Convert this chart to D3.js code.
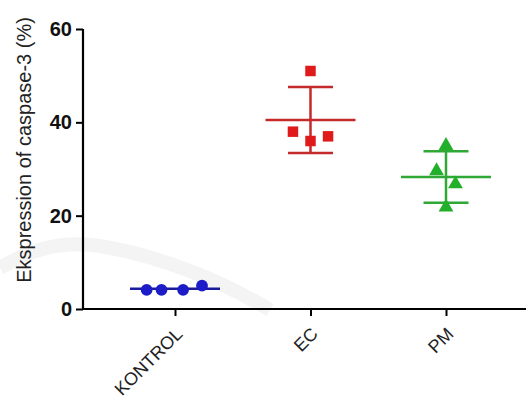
<!DOCTYPE html>
<html>
<head>
<meta charset="utf-8">
<script src="https://cdn.jsdelivr.net/npm/d3@7"></script>
<style>
  body { margin: 0; background: #fff; }
  svg { display: block; font-family: Arial, "Liberation Sans", sans-serif; }
</style>
</head>
<body>
<script>
// groups and measured values (% caspase-3 expression)
const groups = ['KONTROL', 'EC', 'PM'];
const kontrol = [4.1, 4.1, 4.1, 5.0];
const ec = [38, 36, 37, 51];
const pm = [35, 29.6, 26.8, 21.8];
// horizontal spread of dots, as a fraction of band width
const jitterK = [-0.21, -0.1, 0.06, 0.2];
const jitterEC = [-0.13, 0, 0.13, 0];
const jitterPM = [0, -0.07, 0.07, 0];
const yTicks = [0, 20, 40, 60];
const colors = ['#1c1cc8', '#e01a1a', '#22b02a'];
const lineColors = ['#1a1a9a', '#c42a2a', '#2fa836'];

const W = 526, H = 405;
const svg = d3.select('body').append('svg').attr('width', W).attr('height', H);

// faint watermark arc
svg.append('path')
  .attr('d', 'M0,268 C30,250 60,240 100,246 C160,256 220,280 270,310')
  .attr('fill', 'none').attr('stroke', '#f4f4f4').attr('stroke-width', 14);

const x = d3.scalePoint().domain(groups).range([175, 446]);
const band = 135;
const y = d3.scaleLinear().domain([0, 60]).range([309, 29]);

// y axis
const yAxis = svg.append('g').attr('transform', 'translate(83,0)')
  .call(d3.axisLeft(y).tickValues(yTicks).tickSize(7).tickPadding(4));
yAxis.select('.domain').attr('stroke-width', 2.2).attr('d', 'M0,29V309');
yAxis.selectAll('.tick line').attr('stroke-width', 2);
yAxis.selectAll('.tick text').attr('font-size', 20).attr('font-weight', 'bold').attr('fill', '#111');

// x axis
const xAxis = svg.append('g').attr('transform', 'translate(0,309)')
  .call(d3.axisBottom(x).tickSize(7).tickPadding(8));
xAxis.select('.domain').attr('stroke-width', 2.2).attr('d', 'M83,0H526');
xAxis.selectAll('.tick line').attr('stroke-width', 2);
xAxis.selectAll('.tick text')
  .attr('font-size', 18).attr('fill', '#222')
  .attr('text-anchor', 'end').attr('dy', '0.35em')
  .attr('transform', 'translate(-7,11) rotate(-45)');

svg.append('text')
  .attr('transform', 'translate(31,150) rotate(-90)')
  .attr('text-anchor', 'middle').attr('font-size', 20).attr('fill', '#222')
  .text('Ekspression of caspase-3 (%)');

const series = [kontrol, ec, pm];
const jitters = [jitterK, jitterEC, jitterPM];
const shapes = [d3.symbolCircle, d3.symbolSquare, d3.symbolTriangle];

series.forEach((vals, i) => {
  const cx = x(groups[i]);
  const m = d3.mean(vals), sd = d3.deviation(vals);
  const g = svg.append('g');
  const lc = lineColors[i];
  // mean line
  g.append('line').attr('x1', cx - band / 3).attr('x2', cx + band / 3)
    .attr('y1', y(m)).attr('y2', y(m)).attr('stroke', lc).attr('stroke-width', 2.5);
  if (i > 0) {
    g.append('line').attr('x1', cx).attr('x2', cx)
      .attr('y1', y(m + sd)).attr('y2', y(m - sd)).attr('stroke', lc).attr('stroke-width', 2.5);
    [m + sd, m - sd].forEach(v => {
      g.append('line').attr('x1', cx - band / 6).attr('x2', cx + band / 6)
        .attr('y1', y(v)).attr('y2', y(v)).attr('stroke', lc).attr('stroke-width', 2.5);
    });
  }
  g.selectAll('path.pt').data(vals).join('path')
    .attr('class', 'pt')
    .attr('d', d3.symbol().type(shapes[i]).size(i === 2 ? 95 : 110))
    .attr('transform', (d, j) => `translate(${cx + jitters[i][j] * band},${y(d)})`)
    .attr('fill', colors[i]);
});
</script>
</body>
</html>
